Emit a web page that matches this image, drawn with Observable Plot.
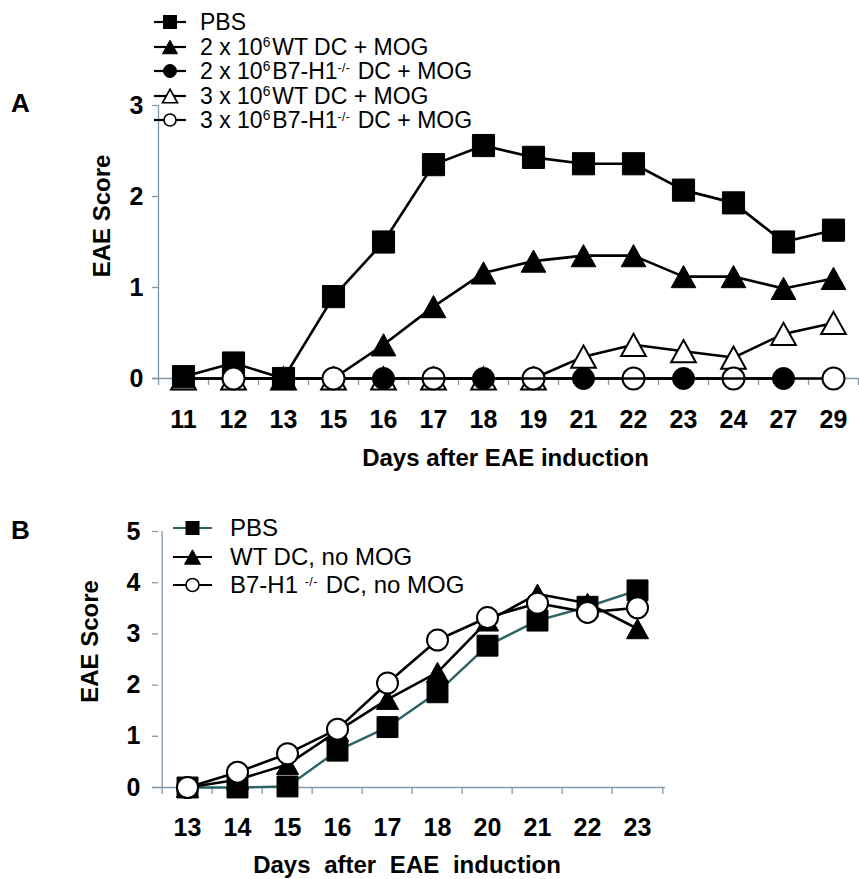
<!DOCTYPE html>
<html>
<head>
<meta charset="utf-8">
<script src="https://cdn.jsdelivr.net/npm/d3@7"></script>
<script src="https://cdn.jsdelivr.net/npm/@observablehq/plot@0.6"></script>
<style>
  body { margin: 0; background: #fff; font-family: "Liberation Sans", Arial, sans-serif; }
  #wrap { position: relative; width: 859px; height: 879px; overflow: hidden; background: #fff; }
  .panel { position: absolute; left: 0; }
  .plabel { position: absolute; font-weight: bold; font-size: 26px; line-height: 1; }
  .legrow { position: absolute; display: flex; align-items: center; height: 24px; white-space: nowrap; color: #000; line-height: 1; }
  .legrow svg { display: block; flex: none; }
  .legrow sup { font-size: 60%; position: relative; top: -0.55em; vertical-align: baseline; }
  .legrow sup.s6 { margin-right: 2px; }
  .legrow sup.ko { font-size: 52%; letter-spacing: 0.5px; margin-right: 1px; }
  text[aria-label="xlabelwide"], [aria-label="xlabelwide"] text { word-spacing: 7px; }
</style>
</head>
<body>
<div id="wrap"></div>
<script>
// ---------- DATA ----------
// Panel A
const daysA = [11, 12, 13, 15, 16, 17, 18, 19, 21, 22, 23, 24, 27, 29];
const pbsA   = [0.02, 0.17, 0, 0.9, 1.5, 2.35, 2.56, 2.43, 2.36, 2.36, 2.07, 1.93, 1.5, 1.63];
const wt2A   = [0, 0, 0, 0, 0.37, 0.79, 1.16, 1.29, 1.35, 1.35, 1.12, 1.12, 0.99, 1.1];
const b7h2A  = [null, null, null, null, 0, null, 0, null, 0, null, 0, null, 0, null];
const wt3A   = [0, 0, 0, 0, 0, 0, 0, 0, 0.24, 0.37, 0.3, 0.23, 0.49, 0.61];
const b7h3A  = [null, 0, null, 0, null, 0, null, 0, null, 0, null, 0, null, 0];
const namesA = [
  "PBS",
  "2 x 10<sup class='s6'>6</sup>WT DC + MOG",
  "2 x 10<sup class='s6'>6</sup>B7-H1<sup class='ko'>-/-</sup> DC + MOG",
  "3 x 10<sup class='s6'>6</sup>WT DC + MOG",
  "3 x 10<sup class='s6'>6</sup>B7-H1<sup class='ko'>-/-</sup> DC + MOG"
];
const yTicksA = [0, 1, 2, 3];

// Panel B
const daysB = [13, 14, 15, 16, 17, 18, 20, 21, 22, 23];
const pbsB  = [0, 0, 0.02, 0.72, 1.18, 1.86, 2.77, 3.26, 3.53, 3.85];
const wtB   = [0, 0.15, 0.45, 1.1, 1.72, 2.25, 3.25, 3.78, 3.6, 3.1];
const b7B   = [0, 0.3, 0.66, 1.14, 2.04, 2.88, 3.32, 3.6, 3.42, 3.51];
const namesB = [
  "PBS",
  "WT DC, no MOG",
  "B7-H1 <sup class='ko'>-/-</sup> DC, no MOG"
];
const yTicksB = [0, 1, 2, 3, 4, 5];

const xLabelA = "Days after EAE induction";
const xLabelB = "Days after EAE induction";
const yLabel = "EAE Score";

// ---------- STYLE ----------
const axisColor = "#8299ab";
const teal = "#2b6466";
const FONT = "'Liberation Sans', Arial, sans-serif";

// Excel-like triangle, centred on its bounding box
const triangle = {
  draw(ctx, size) {
    const w = Math.sqrt(size) * 1.45, h = w * 0.9;
    ctx.moveTo(0, -h / 2);
    ctx.lineTo(w / 2, h / 2);
    ctx.lineTo(-w / 2, h / 2);
    ctx.closePath();
  }
};

function rows(days, values) {
  return days.map((d, i) => ({day: d, v: values[i]})).filter(r => r.v != null);
}

function panel(cfg) {
  const {days, series, yDomain, yTicks, height, marginTop, marginBottom, marginRight,
         xLabel, xlDx, xlDy, ylDx, ylDy, tickPadX, tickPadY, xLabelAria} = cfg;
  const width = 859, marginLeft = 158;
  const half = (width - marginLeft - marginRight) / days.length / 2;
  const marks = [
    Plot.ruleY([yDomain[0]], {stroke: axisColor, strokeWidth: 1.3, insetLeft: -6}),
    Plot.ruleX([days[0]], {y1: yDomain[0], y2: yDomain[1], dx: -half, stroke: axisColor, strokeWidth: 1.3}),
    Plot.axisX({ticks: days, tickSize: 7, tickFormat: () => "", dx: -half, stroke: axisColor, strokeWidth: 1.3, label: null}),
    Plot.axisX({ticks: [days[days.length - 1]], tickSize: 7, tickFormat: () => "", dx: half, stroke: axisColor, strokeWidth: 1.3, label: null}),
    Plot.axisX({ticks: days, tickSize: 0, tickPadding: tickPadX, fontSize: 25, fontWeight: "bold", fill: "#000", label: null}),
    Plot.axisY({ticks: yTicks, tickFormat: d => String(d), tickSize: 6, tickPadding: tickPadY, stroke: axisColor, strokeWidth: 1.3, fontSize: 25, fontWeight: "bold", fill: "#000", label: null}),
    Plot.text([xLabel], {frameAnchor: "bottom", dx: xlDx, dy: xlDy, lineAnchor: "middle", textAnchor: "middle",
      fontSize: 24, fontWeight: "bold", fill: "#000", ariaLabel: () => xLabelAria}),
    Plot.text([yLabel], {frameAnchor: "left", rotate: -90, dx: ylDx, dy: ylDy, lineAnchor: "middle", textAnchor: "middle",
      fontSize: 24, fontWeight: "bold", fill: "#000"})
  ];
  for (const s of series) {
    const data = rows(days, s.values);
    marks.push(Plot.line(data, {x: "day", y: "v", stroke: s.line, strokeWidth: s.lw}));
    marks.push(Plot.dot(data, {x: "day", y: "v", symbol: s.symbol, r: s.r, fill: s.fill, stroke: "#000", strokeWidth: s.sw}));
  }
  return Plot.plot({
    width, height, marginLeft, marginRight, marginTop, marginBottom,
    x: {type: "point", domain: days, padding: 0.5},
    y: {domain: yDomain},
    style: {fontFamily: FONT, background: "#fff", overflow: "visible"},
    marks
  });
}

const wrap = document.getElementById("wrap");

// Panel A (drawing order chosen to reproduce overlaps)
const seriesA = [
  {values: wt2A, symbol: triangle, r: 9.6, fill: "#000", line: "#000", lw: 2.6, sw: 1},
  {values: wt3A, symbol: triangle, r: 9.6, fill: "#fff", line: "#000", lw: 2.6, sw: 2},
  {values: pbsA, symbol: "square", r: 12.5, fill: "#000", line: "#000", lw: 2.6, sw: 1},
  {values: b7h3A, symbol: "circle", r: 11, fill: "#fff", line: "#000", lw: 2.6, sw: 2},
  {values: b7h2A, symbol: "circle", r: 11, fill: "#000", line: "#000", lw: 2.6, sw: 1}
];
const chartA = panel({
  days: daysA, series: seriesA, yDomain: [0, 3], yTicks: yTicksA,
  height: 480, marginTop: 105, marginBottom: 102, marginRight: 1,
  xLabel: xLabelA, xlDx: -3, xlDy: 80, ylDx: -56, ylDy: -26, tickPadX: 32, tickPadY: 9, xLabelAria: "xlabel"
});
const divA = document.createElement("div");
divA.className = "panel"; divA.style.top = "0px";
divA.appendChild(chartA); wrap.appendChild(divA);

// Panel B
const seriesB = [
  {values: pbsB, symbol: "square", r: 11.8, fill: "#000", line: teal, lw: 2.4, sw: 1},
  {values: wtB, symbol: triangle, r: 8.6, fill: "#000", line: "#000", lw: 2.6, sw: 1},
  {values: b7B, symbol: "circle", r: 10.5, fill: "#fff", line: "#000", lw: 2.6, sw: 2}
];
const chartB = panel({
  days: daysB, series: seriesB, yDomain: [0, 5], yTicks: yTicksB,
  height: 399, marginTop: 51, marginBottom: 92, marginRight: 194,
  xLabel: xLabelB, xlDx: -5, xlDy: 78, ylDx: -68, ylDy: -18, tickPadX: 31, tickPadY: 12, xLabelAria: "xlabelwide"
});
const divB = document.createElement("div");
divB.className = "panel"; divB.style.top = "480px";
divB.appendChild(chartB); wrap.appendChild(divB);

// Panel letters
for (const [t, top] of [["A", 90], ["B", 517]]) {
  const d = document.createElement("div");
  d.className = "plabel"; d.textContent = t;
  d.style.left = "11px"; d.style.top = top + "px";
  wrap.appendChild(d);
}

// Legends
function symSvg(kind, fill, lineColor, w, size) {
  const cx = w / 2, cy = 12;
  let shape = "";
  if (kind === "square") {
    shape = `<rect x="${cx - size / 2}" y="${cy - size / 2}" width="${size}" height="${size}" fill="${fill}" stroke="#000" stroke-width="1"/>`;
  } else if (kind === "circle") {
    shape = `<circle cx="${cx}" cy="${cy}" r="${size / 2}" fill="${fill}" stroke="#000" stroke-width="${fill === "#fff" ? 1.6 : 1}"/>`;
  } else {
    const h = size * 0.9;
    shape = `<path d="M${cx},${cy - h / 2}L${cx + size / 2},${cy + h / 2}L${cx - size / 2},${cy + h / 2}Z" fill="${fill}" stroke="#000" stroke-width="${fill === "#fff" ? 1.6 : 1}"/>`;
  }
  return `<svg width="${w}" height="24"><line x1="0" y1="${cy}" x2="${w}" y2="${cy}" stroke="${lineColor}" stroke-width="2.2"/>${shape}</svg>`;
}
function legend(names, syms, left, lineW, gap, tops, fontSize) {
  names.forEach((n, i) => {
    const row = document.createElement("div");
    row.className = "legrow";
    row.style.left = left + "px";
    row.style.top = (tops[i] - 12) + "px";
    row.style.fontSize = fontSize + "px";
    const s = syms[i];
    row.innerHTML = symSvg(s.kind, s.fill, s.line, lineW, s.size) + `<span style="margin-left:${gap}px">${n}</span>`;
    wrap.appendChild(row);
  });
}
legend(namesA, [
  {kind: "square", fill: "#000", line: "#000", size: 13},
  {kind: "tri", fill: "#000", line: "#000", size: 15},
  {kind: "circle", fill: "#000", line: "#000", size: 13},
  {kind: "tri", fill: "#fff", line: "#000", size: 15},
  {kind: "circle", fill: "#fff", line: "#000", size: 12}
], 154, 32, 14, [22, 47, 71, 96, 120], 23);
legend(namesB, [
  {kind: "square", fill: "#000", line: teal, size: 13},
  {kind: "tri", fill: "#000", line: "#000", size: 16},
  {kind: "circle", fill: "#fff", line: "#000", size: 13}
], 173, 39, 18, [528, 557, 585], 24);
</script>
</body>
</html>
